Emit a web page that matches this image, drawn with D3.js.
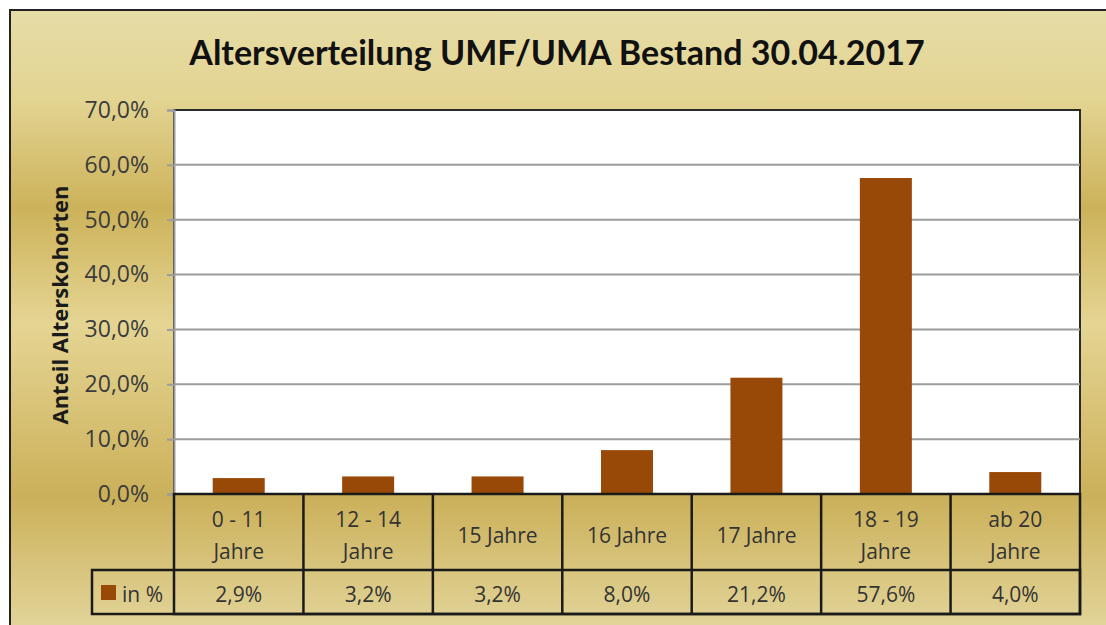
<!DOCTYPE html>
<html>
<head>
<meta charset="utf-8">
<script src="https://cdn.jsdelivr.net/npm/d3@7"></script>
<style>
  html, body { margin: 0; padding: 0; background: #fff; }
  svg { display: block; font-family: "Open Sans", Lato, sans-serif; }
</style>
</head>
<body>
<svg id="chart" width="1106" height="625"></svg>
<script>
// data
const categories = [["0 - 11", "Jahre"], ["12 - 14", "Jahre"], ["15 Jahre"], ["16 Jahre"], ["17 Jahre"], ["18 - 19", "Jahre"], ["ab 20", "Jahre"]];
const shares = [2.9, 3.2, 3.2, 8.0, 21.2, 57.6, 4.0];
const seriesName = "in %";
const yTicks = [0, 10, 20, 30, 40, 50, 60, 70];

const title = "Altersverteilung UMF/UMA Bestand 30.04.2017";
const yLabel = "Anteil Alterskohorten";

const svg = d3.select("#chart");
const barColor = "#984807";
const fmt = v => d3.format(".1f")(v).replace(".", ",") + "%";

// gold metallic backdrop
const defs = svg.append("defs");
const grad = defs.append("linearGradient").attr("id", "gold")
  .attr("x1", 0).attr("y1", 0).attr("x2", 0).attr("y2", 1);
[[0, "#e6dca6"], [0.14, "#e3d492"], [0.31, "#ccb25a"], [0.49, "#e5d593"], [0.76, "#cbb05a"], [1, "#e6dba4"]]
  .forEach(([o, c]) => grad.append("stop").attr("offset", o).attr("stop-color", c));

svg.append("rect")
  .attr("x", 10).attr("y", 10).attr("width", 1120).attr("height", 640)
  .attr("fill", "url(#gold)").attr("stroke", "#222").attr("stroke-width", 2);

// plot area
const plotL = 174, plotR = 1080, plotT = 110, plotB = 494;
const x = d3.scaleBand().domain(d3.range(categories.length)).range([plotL, plotR]);
const y = d3.scaleLinear().domain([0, 70]).range([plotB, plotT]);

svg.append("rect")
  .attr("x", plotL).attr("y", plotT).attr("width", plotR - plotL).attr("height", plotB - plotT)
  .attr("fill", "#fff").attr("stroke", "#2a2a2a").attr("stroke-width", 2);

svg.append("g").selectAll("line")
  .data(yTicks.slice(1, -1))
  .join("line")
  .attr("x1", plotL).attr("x2", plotR)
  .attr("y1", d => y(d)).attr("y2", d => y(d))
  .attr("stroke", "#9c9c9c").attr("stroke-width", 2);

const yAxis = svg.append("g")
  .attr("transform", `translate(${plotL},0)`)
  .call(d3.axisLeft(y).tickValues(yTicks).tickSize(7).tickPadding(18).tickFormat(fmt));
yAxis.select(".domain").attr("stroke", "#9c9c9c").attr("stroke-width", 2);
yAxis.selectAll(".tick line").attr("stroke", "#9c9c9c").attr("stroke-width", 2);
yAxis.selectAll(".tick text")
  .attr("font-size", 23).attr("fill", "#3c3c3c")
  .attr("font-family", "'Open Sans', sans-serif");

// bars
const barW = 52;
svg.append("g").selectAll("rect")
  .data(shares)
  .join("rect")
  .attr("x", (d, i) => x(i) + x.bandwidth() / 2 - barW / 2)
  .attr("y", d => y(d))
  .attr("width", barW)
  .attr("height", d => plotB - y(d))
  .attr("fill", barColor);

// data table
const rowMid = 570, rowEnd = 614, legLeft = 92;
const table = svg.append("g").attr("stroke", "#1a1a1a").attr("stroke-width", 2.5).attr("fill", "none");
table.append("rect").attr("x", plotL).attr("y", plotB).attr("width", plotR - plotL).attr("height", rowEnd - plotB);
table.append("rect").attr("x", legLeft).attr("y", rowMid).attr("width", plotR - legLeft).attr("height", rowEnd - rowMid);
table.selectAll("line.col")
  .data(d3.range(1, categories.length))
  .join("line")
  .attr("x1", i => x(i)).attr("x2", i => x(i))
  .attr("y1", plotB).attr("y2", rowEnd);

const txt = svg.append("g").attr("font-size", 21).attr("fill", "#333").attr("text-anchor", "middle");
categories.forEach((lines, i) => {
  const cx = x(i) + x.bandwidth() / 2;
  const t = txt.append("text").attr("x", cx);
  const y0 = lines.length === 1 ? 543 : 527;
  lines.forEach((l, k) => t.append("tspan").attr("x", cx).attr("y", y0 + k * 32).text(l));
});
txt.selectAll("text.val")
  .data(shares)
  .join("text")
  .attr("class", "val")
  .attr("x", (d, i) => x(i) + x.bandwidth() / 2)
  .attr("y", 602)
  .text(d => fmt(d));

// legend key
svg.append("rect").attr("x", 101).attr("y", 585).attr("width", 15).attr("height", 15).attr("fill", barColor);
svg.append("text").attr("x", 122).attr("y", 602).attr("font-size", 21).attr("fill", "#333").text(seriesName);

// titles
svg.append("text")
  .attr("x", 557).attr("y", 65)
  .attr("text-anchor", "middle")
  .attr("font-family", "Lato, sans-serif")
  .attr("font-size", 34).attr("font-weight", "bold").attr("fill", "#111")
  .text(title);

svg.append("text")
  .attr("transform", "translate(68,305) rotate(-90)")
  .attr("text-anchor", "middle")
  .attr("font-size", 22).attr("font-weight", "bold").attr("fill", "#1a1a1a")
  .text(yLabel);
</script>
</body>
</html>
